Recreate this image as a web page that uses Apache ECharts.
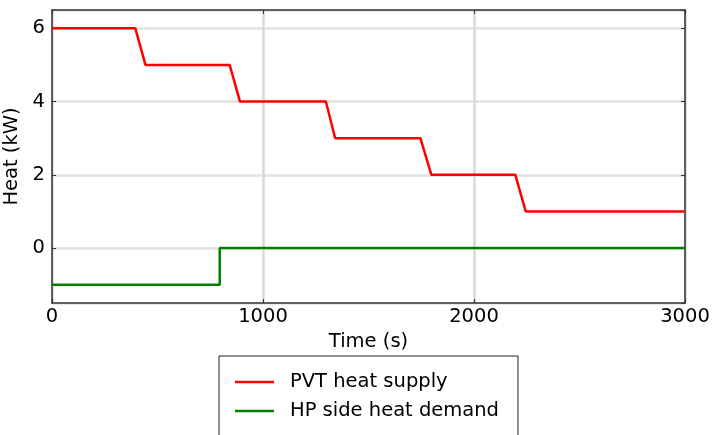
<!DOCTYPE html>
<html>
<head>
<meta charset="utf-8">
<script src="https://cdn.jsdelivr.net/npm/echarts@6/dist/echarts.min.js"></script>
<style>
html,body{margin:0;padding:0;background:#fff;}
#c{width:712px;height:435px;}
</style>
</head>
<body>
<div id="c"></div>
<script>
// Data
const pvtTime = [0, 395, 443, 842, 891, 1298, 1342, 1746, 1798, 2196, 2245, 3000];
const pvtHeat = [6, 6, 5, 5, 4, 4, 3, 3, 2, 2, 1, 1];
const hpTime = [0, 795, 795, 3000];
const hpHeat = [-1, -1, 0, 0];
const seriesNames = ['PVT heat supply', 'HP side heat demand'];
const xTicks = [0, 1000, 2000, 3000];
const yTicks = [0, 2, 4, 6];

const pair = (xs, ys) => xs.map((x, i) => [x, ys[i]]);
const FONT = 'DejaVu Sans';
const FS = 19.5;

const chart = echarts.init(document.getElementById('c'), null, {renderer: 'canvas'});
const axisLine = {show: true, onZero: false, lineStyle: {color: '#333', width: 1.5}};
const tick = {show: true, inside: true, length: 4, lineStyle: {color: '#333', width: 1}};

chart.setOption({
  animation: false,
  backgroundColor: '#fff',
  grid: {left: 52, top: 10, right: 27, bottom: 132, containLabel: false, outerBoundsMode: 'none'},
  xAxis: [{
    type: 'value', min: xTicks[0], max: xTicks[xTicks.length - 1], interval: 1000,
    name: 'Time (s)', nameLocation: 'middle', nameGap: 27,
    nameTextStyle: {fontFamily: FONT, fontSize: FS, color: '#000'},
    axisLine: axisLine, axisTick: tick,
    axisLabel: {fontFamily: FONT, fontSize: FS, color: '#000', margin: 4, formatter: v => String(v)},
    splitLine: {show: true, lineStyle: {color: '#d8d8d8', width: 2.5}}
  }, {
    type: 'value', position: 'top', min: xTicks[0], max: xTicks[xTicks.length - 1], interval: 1000,
    axisLine: axisLine, axisTick: tick, axisLabel: {show: false}, splitLine: {show: false}
  }],
  yAxis: [{
    type: 'value', min: -1.5, max: 6.5, splitNumber: 4,
    name: 'Heat (kW)', nameLocation: 'middle', nameGap: 28,
    nameTextStyle: {fontFamily: FONT, fontSize: FS, color: '#000'},
    axisLine: axisLine, axisTick: tick,
    axisLabel: {fontFamily: FONT, fontSize: FS, color: '#000', margin: 7,
      showMinLabel: false, showMaxLabel: false,
      formatter: v => (yTicks.indexOf(v) >= 0 ? String(v) : '')},
    splitLine: {show: true, lineStyle: {color: '#e2e2e2', width: 2.5}}
  }, {
    type: 'value', position: 'right', min: -1.5, max: 6.5, splitNumber: 4,
    axisLine: axisLine, axisTick: tick, axisLabel: {show: false}, splitLine: {show: false}
  }],
  legend: {
    orient: 'vertical', left: 219, top: 356, width: 280, height: 120,
    backgroundColor: '#fff',
    borderColor: '#222', borderWidth: 1, borderRadius: 0,
    padding: [16, 19, 40, 16],
    itemWidth: 39, itemHeight: 2.5, itemGap: 9,
    icon: 'rect',
    textStyle: {fontFamily: FONT, fontSize: FS, color: '#000', lineHeight: 20, padding: [0, 0, 0, 11]},
    data: seriesNames
  },
  series: [{
    name: seriesNames[0], type: 'line', symbol: 'none',
    data: pair(pvtTime, pvtHeat),
    itemStyle: {color: '#ff0000'},
    lineStyle: {color: '#ff0000', width: 2.5}
  }, {
    name: seriesNames[1], type: 'line', symbol: 'none',
    data: pair(hpTime, hpHeat),
    itemStyle: {color: '#008000'},
    lineStyle: {color: '#008000', width: 2.5}
  }]
});
</script>
</body>
</html>
